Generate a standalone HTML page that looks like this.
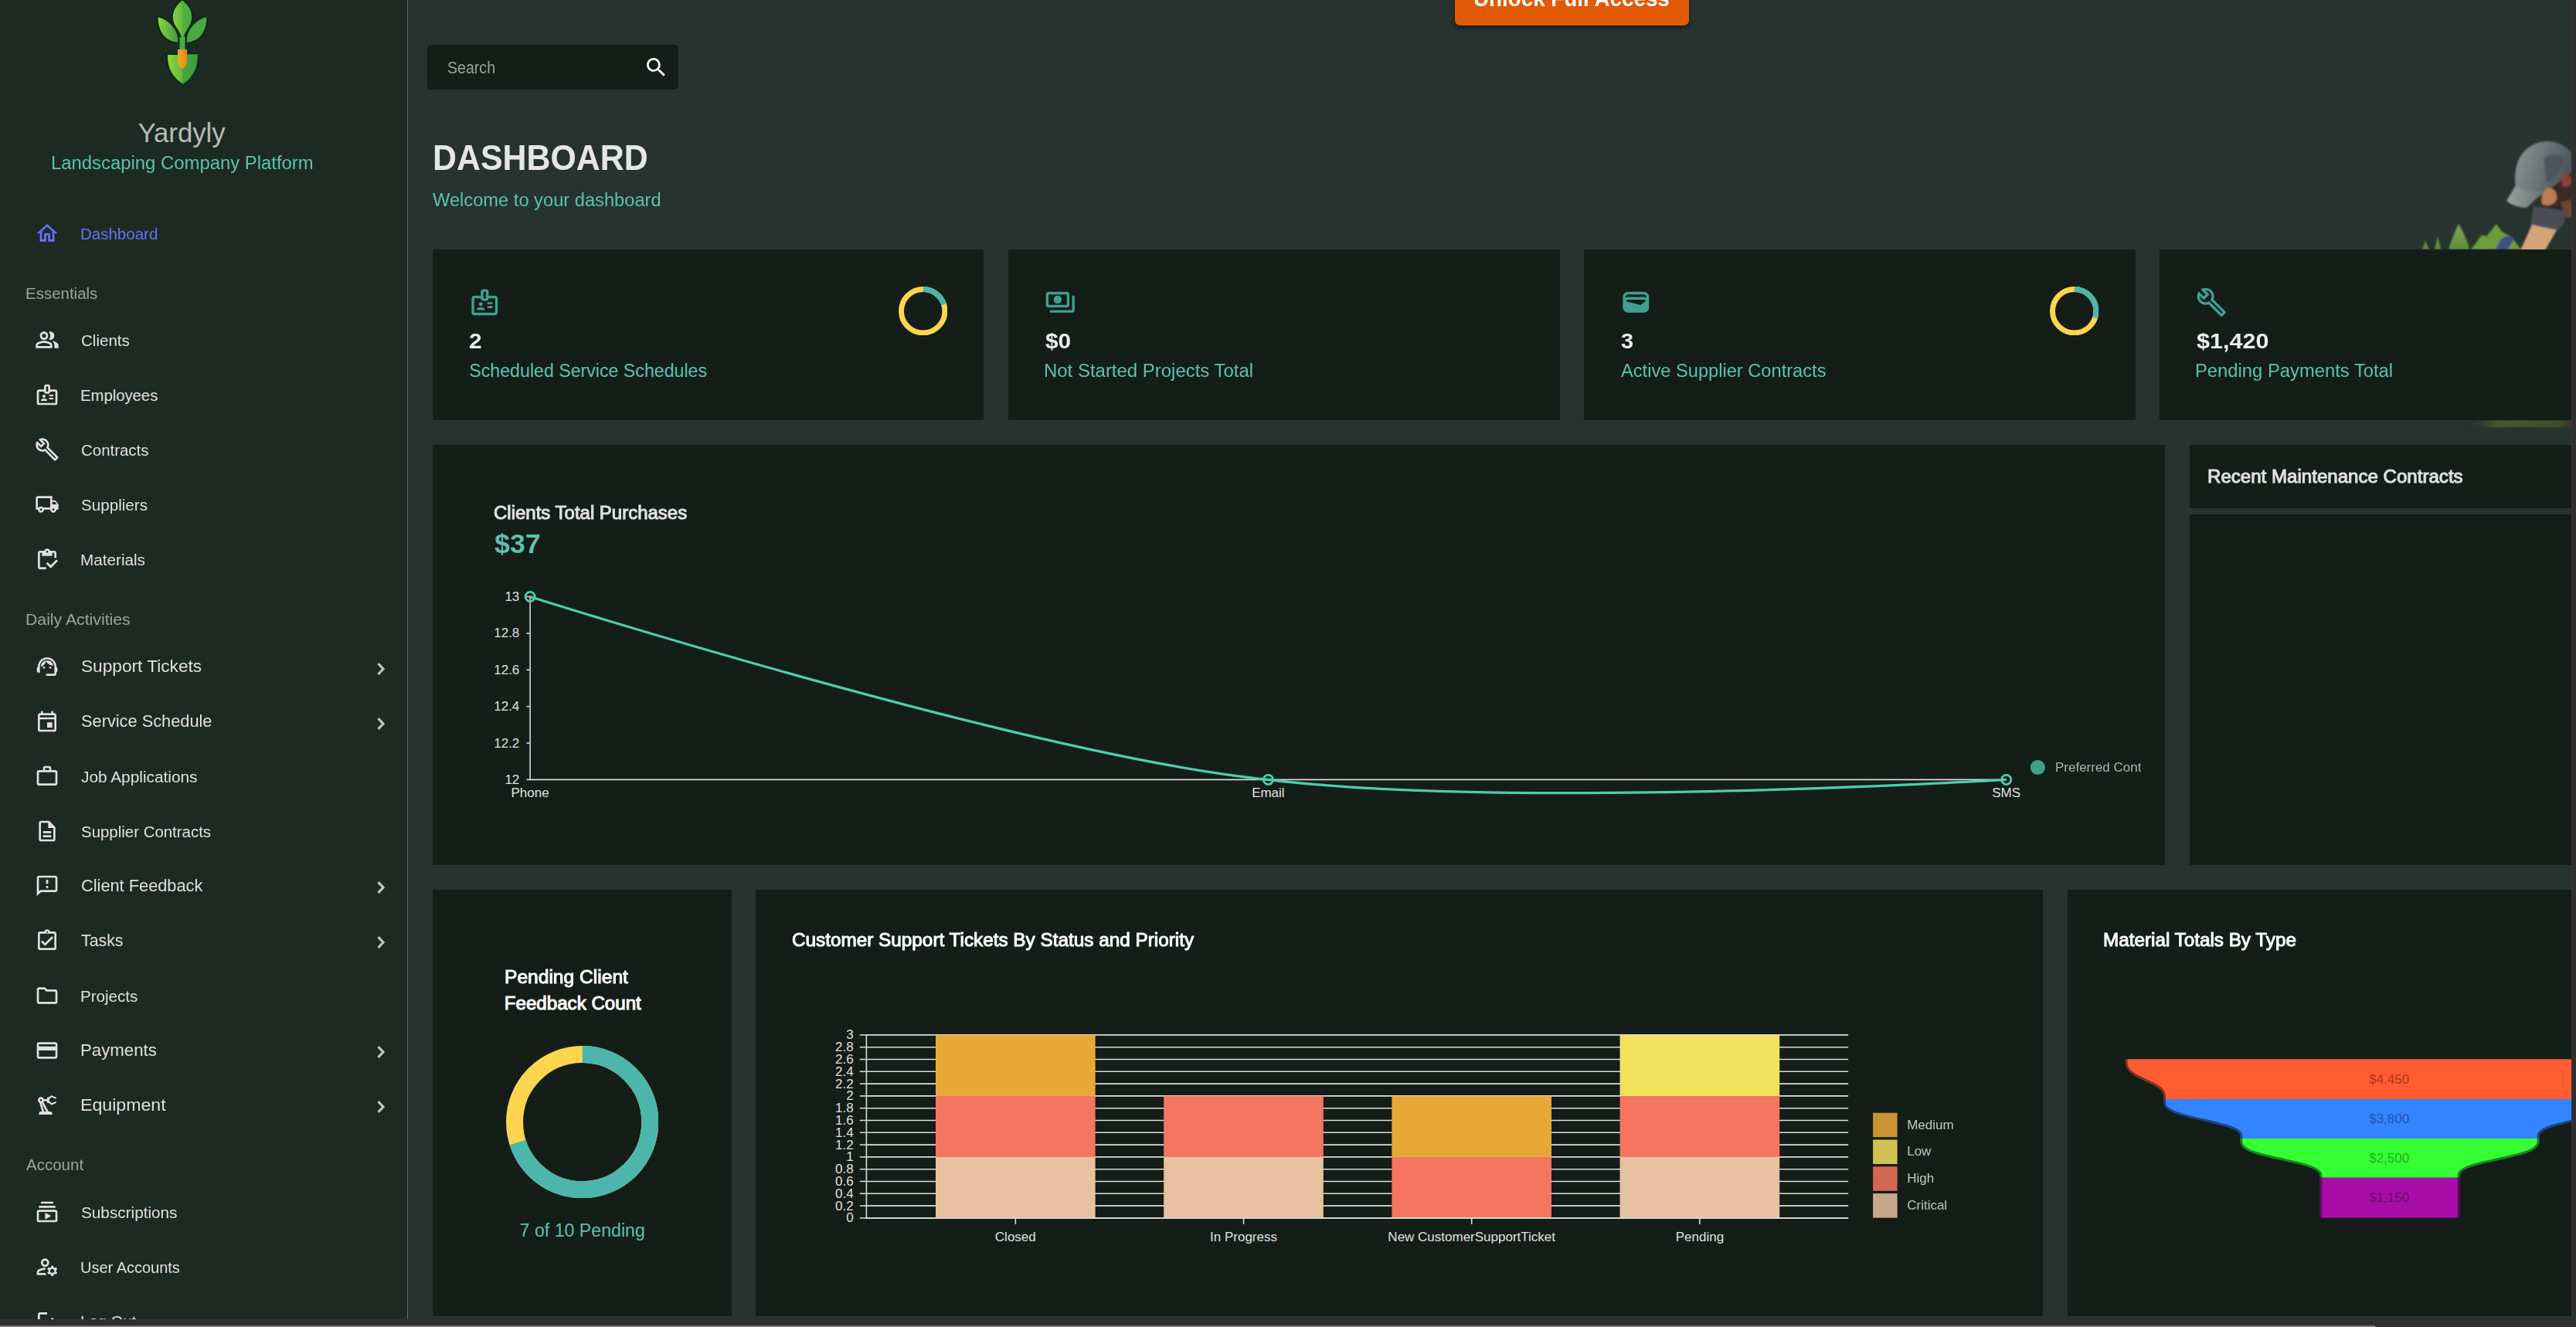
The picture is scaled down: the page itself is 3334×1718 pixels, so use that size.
<!DOCTYPE html><html lang="en"><head><meta charset="utf-8"><title>Yardyly - Dashboard</title><style>
*{box-sizing:border-box;margin:0;padding:0}
html,body{width:3334px;height:1718px;overflow:hidden;background:#26332f}
body{position:relative;font-family:"Liberation Sans",Arial,sans-serif}
.t{position:absolute;white-space:nowrap;transform-origin:0 0;display:block;text-decoration:none}
.ic{position:absolute;display:block}
.abs{position:absolute}
.card{position:absolute;background:#141d18}
aside{position:absolute;left:0;top:0;width:528px;height:1718px;background:#1d2a23;border-right:1px solid #5d6a63;overflow:hidden}
main{position:absolute;left:0;top:0;width:3328px;height:1708px;overflow:hidden}
nav,header{position:absolute;left:0;top:0}
svg text{font-family:"Liberation Sans",Arial,sans-serif}
.sbv{position:absolute;left:3328px;top:0;width:6px;height:1718px;background:#2f2f2f;border-left:1px solid #353535}
.sbh{position:absolute;left:0;top:1708px;width:3334px;height:10px;background:#2f2f2f}
.sbt{position:absolute;left:0;top:1716px;width:3074px;height:2px;background:#7a7a7a}
</style></head><body>
<main>
<button class="abs" style="left:1883.00px;top:-40.00px;width:303px;height:73px;background:#e05a07;border:none;border-radius:7px;box-shadow:0 3px 4px rgba(0,0,0,.45);font-family:inherit;text-align:left;overflow:visible">
<span class="t" style="left:24.33px;top:22.88px;font-size:29.91px;line-height:29.91px;color:#fff;font-weight:700;transform:scaleX(0.9292);">Unlock Full Access</span>
</button>
<div class="abs" style="left:553.00px;top:58.00px;width:325px;height:57.5px;background:#141d18;border-radius:5px">
<span class="t" style="left:25.71px;top:18.83px;font-size:21.23px;line-height:21.23px;color:#9aa39e;font-weight:400;transform:scaleX(0.9231);">Search</span>
<svg class="ic" style="left:279.90px;top:12.90px;width:32.60px;height:32.60px;" viewBox="0 0 24 24" fill="#ffffff"><path d="M15.500 14h-.79l-.28-.27C15.410 12.590 16 11.110 16 9.500 16 5.910 13.090 3 9.500 3S3 5.910 3 9.500 5.910 16 9.500 16c1.610 0 3.090-.59 4.230-1.570l.27.28v.79l5 4.990L20.490 19l-4.990-5zm-6 0C7.010 14 5 11.990 5 9.500S7.010 5 9.500 5 14 7.010 14 9.500 11.990 14 9.500 14z"/></svg>
</div>
<header>
<h1 class="t" style="left:560.13px;top:182.00px;font-size:45.84px;line-height:45.84px;color:#e6e6e6;font-weight:700;transform:scaleX(0.9355);">DASHBOARD</h1>
<h5 class="t" style="left:560.40px;top:247.60px;font-size:23.16px;line-height:23.16px;color:#5ac3ad;font-weight:400;transform:scaleX(1.0223);">Welcome to your dashboard</h5>
</header>
<svg class="abs" style="left:3100px;top:160px;width:228px;height:400px;overflow:hidden" viewBox="3100 160 228 400">
<defs><filter id="bl" x="-20%" y="-20%" width="140%" height="140%"><feGaussianBlur stdDeviation="1.1"/></filter>
<linearGradient id="cap" x1="0" y1="0" x2="1" y2="0.3"><stop offset="0" stop-color="#8a9896"/><stop offset=".45" stop-color="#6f7c7b"/><stop offset="1" stop-color="#4d535a"/></linearGradient>
<linearGradient id="brim" x1="0" y1="0" x2="1" y2="0"><stop offset="0" stop-color="#95a3a0"/><stop offset="1" stop-color="#66726f"/></linearGradient>
<linearGradient id="lf" x1="0" y1="0" x2="0" y2="1"><stop offset="0" stop-color="#7fa95a"/><stop offset="1" stop-color="#5d8c35"/></linearGradient>
<linearGradient id="gl" x1="0" y1="0" x2="1" y2="0"><stop offset="0" stop-color="#2a3630" stop-opacity="0"/><stop offset=".3" stop-color="#5b7a2a"/><stop offset=".85" stop-color="#4a6628"/><stop offset="1" stop-color="#5a2a2a"/></linearGradient></defs>
<g filter="url(#bl)">
<path d="M3256 243 C3252 214 3262 190 3288 184 C3306 180 3322 188 3330 200 L3330 232 C3318 244 3300 252 3290 254 Z" fill="url(#cap)"/>
<path d="M3292 205 C3300 198 3312 198 3318 206 C3316 220 3306 232 3296 236 Z" fill="#4a4f58" opacity=".75"/>
<path d="M3256 240 L3244 260 C3250 266 3262 269 3270 269 L3294 247 C3280 250 3266 247 3256 240Z" fill="url(#brim)"/>
<path d="M3290 252 C3300 246 3316 232 3330 222 L3330 282 C3318 284 3300 280 3286 270 C3284 262 3286 256 3290 252Z" fill="#3a2b28"/>
<path d="M3296 244 C3304 242 3310 248 3309 258 C3306 266 3296 268 3290 264 C3288 256 3291 248 3296 244Z" fill="#b97c52"/>
<path d="M3316 226 C3322 222 3328 226 3328 236 C3326 242 3320 244 3316 240Z" fill="#8a4038"/>
<path d="M3279 267 L3322 273 L3318 290 L3309 299 L3275 291Z" fill="#4b4e57"/>
<path d="M3314 262 L3330 258 L3330 280 L3322 282Z" fill="#6b4630"/>
<path d="M3277 291 L3309 298 L3294 324 L3262 324Z" fill="#d6a479"/>
<path d="M3182 290 C3188 300 3194 312 3196 323 L3169 323 C3172 312 3177 300 3182 290Z M3155 306 L3159 323 L3151 323Z M3139 312 L3144 323 L3135 323Z" fill="url(#lf)"/>
<path d="M3231 290 L3238 300 L3250 306 L3263 323 L3198 323 L3212 304 L3218 306Z" fill="#6c9c3a"/>
<path d="M3236 311 C3242 304 3250 304 3254 309 L3246 323 L3230 323Z" fill="#3f4f86"/>
</g>
<rect x="3190" y="544" width="140" height="9" fill="url(#gl)" opacity=".6" filter="url(#bl)"/>
</svg>
<section class="card" style="left:560.00px;top:323.00px;width:713px;height:221px;">
<svg class="ic" style="left:46.90px;top:47.70px;width:40.60px;height:40.60px;" viewBox="0 0 24 24" fill="#409f91"><path d="M14 12h4v1.5h-4zM14 15h4v1.5h-4z"/><path d="M20 7h-5V4c0-1.1-.9-2-2-2h-2c-1.1 0-2 .9-2 2v3H4c-1.1 0-2 .9-2 2v11c0 1.1.9 2 2 2h16c1.1 0 2-.9 2-2V9c0-1.1-.9-2-2-2zm-9-3h2v5h-2V4zm9 16H4V9h5c0 1.1.9 2 2 2h2c1.1 0 2-.9 2-2h5v11z"/><path d="M9 15c.83 0 1.5-.67 1.5-1.5S9.830 12 9 12s-1.500.67-1.500 1.500S8.170 15 9 15zM11.080 16.180C10.440 15.900 9.740 15.750 9 15.750s-1.440.15-2.080.43c-.56.24-.92.78-.92 1.390V18h6v-.43c0-.61-.36-1.150-.92-1.390z"/></svg>
<h4 class="t" style="left:47.36px;top:104.62px;font-size:27.50px;line-height:27.50px;color:#ededed;font-weight:700;transform:scaleX(1.0874);">2</h4>
<h5 class="t" style="left:47.35px;top:146.00px;font-size:23.16px;line-height:23.16px;color:#5ac3ad;font-weight:400;">Scheduled Service Schedules</h5>
<svg class="ic" style="left:602.70px;top:47.50px;width:63.40px;height:63.40px" viewBox="-31.7 -31.7 63.4 63.4"><circle r="28.20" fill="none" stroke="#ffd54f" stroke-width="7.00"/><circle r="28.20" fill="none" stroke="#4db6ac" stroke-width="7.00" stroke-dasharray="35.44 177.19" transform="rotate(-90)"/></svg>
</section>
<section class="card" style="left:1305.00px;top:323.00px;width:714px;height:221px;">
<svg class="ic" style="left:46.90px;top:47.70px;width:40.60px;height:40.60px;" viewBox="0 0 24 24" fill="#409f91"><path d="M19 14V6c0-1.100-.9-2-2-2H3c-1.100 0-2 .9-2 2v8c0 1.100.9 2 2 2h14c1.100 0 2-.9 2-2zm-2 0H3V6h14v8zm-7-7c-1.660 0-3 1.340-3 3s1.340 3 3 3 3-1.340 3-3-1.340-3-3-3zm13 0v11c0 1.100-.9 2-2 2H4v-2h17V7h2z"/></svg>
<h4 class="t" style="left:48.01px;top:104.62px;font-size:27.50px;line-height:27.50px;color:#ededed;font-weight:700;transform:scaleX(1.0858);">$0</h4>
<h5 class="t" style="left:46.43px;top:146.00px;font-size:23.16px;line-height:23.16px;color:#5ac3ad;font-weight:400;transform:scaleX(1.0344);">Not Started Projects Total</h5>
</section>
<section class="card" style="left:2050.00px;top:323.00px;width:714px;height:221px;">
<svg class="ic" style="left:46.90px;top:47.70px;width:40.60px;height:40.60px;" viewBox="0 0 24 24" fill="#409f91"><path d="M18 4H6C3.790 4 2 5.790 2 8v8c0 2.210 1.790 4 4 4h12c2.210 0 4-1.790 4-4V8c0-2.210-1.790-4-4-4zm-1.860 9.770c-.24.2-.57.28-.88.2L4.150 11.250C4.450 10.520 5.160 10 6 10h12c.67 0 1.260.34 1.630.84l-3.490 2.930zM6 6h12c1.100 0 2 .9 2 2v.55c-.59-.34-1.270-.55-2-.55H6c-.73 0-1.410.21-2 .55V8c0-1.100.9-2 2-2z"/></svg>
<h4 class="t" style="left:47.74px;top:104.62px;font-size:27.50px;line-height:27.50px;color:#ededed;font-weight:700;transform:scaleX(1.0532);">3</h4>
<h5 class="t" style="left:48.35px;top:146.00px;font-size:23.16px;line-height:23.16px;color:#5ac3ad;font-weight:400;transform:scaleX(1.0212);">Active Supplier Contracts</h5>
<svg class="ic" style="left:602.70px;top:47.50px;width:63.40px;height:63.40px" viewBox="-31.7 -31.7 63.4 63.4"><circle r="28.20" fill="none" stroke="#ffd54f" stroke-width="7.00"/><circle r="28.20" fill="none" stroke="#4db6ac" stroke-width="7.00" stroke-dasharray="53.16 177.19" transform="rotate(-90)"/></svg>
</section>
<section class="card" style="left:2795.00px;top:323.00px;width:714px;height:221px;">
<svg class="ic" style="left:46.90px;top:47.70px;width:40.60px;height:40.60px;" viewBox="0 0 24 24" fill="#409f91"><path d="M22.61 18.99l-9.080-9.080c.93-2.340.45-5.100-1.440-7C9.790.610 6.210.4 3.660 2.260L7.500 6.110 6.080 7.520 2.250 3.690C.39 6.230.6 9.820 2.900 12.110c1.860 1.860 4.570 2.350 6.890 1.480l9.110 9.110c.39.39 1.020.39 1.410 0l2.300-2.300c.4-.38.4-1.010 0-1.410zm-3 1.600l-9.460-9.460c-.61.45-1.290.72-2 .82-1.360.2-2.790-.21-3.830-1.250C3.370 9.760 2.930 8.500 3 7.260l3.090 3.090 4.240-4.240-3.090-3.090c1.240-.07 2.490.37 3.440 1.310 1.080 1.080 1.490 2.570 1.240 3.960-.12.71-.42 1.370-.88 1.960l9.450 9.450-.88.89z"/></svg>
<h4 class="t" style="left:48.00px;top:104.62px;font-size:27.50px;line-height:27.50px;color:#ededed;font-weight:700;transform:scaleX(1.1109);">$1,420</h4>
<h5 class="t" style="left:46.45px;top:146.00px;font-size:23.16px;line-height:23.16px;color:#5ac3ad;font-weight:400;transform:scaleX(1.0274);">Pending Payments Total</h5>
</section>
<section class="card" style="left:560.00px;top:576.00px;width:2242px;height:544px;">
<h3 class="t" style="left:78.78px;top:77.00px;font-size:23.16px;line-height:23.16px;color:#e0e0e0;font-weight:400;transform:scaleX(1.0358);-webkit-text-stroke:1px currentColor;">Clients Total Purchases</h3>
<h2 class="t" style="left:79.53px;top:111.29px;font-size:34.74px;line-height:34.74px;color:#5ac3ad;font-weight:700;transform:scaleX(1.0292);">$37</h2>
<svg class="abs" style="left:0.00px;top:0.00px;width:2211.3px;height:544px;overflow:hidden" viewBox="560 576 2211.3 544"><g stroke="#d9d9d9" stroke-width="1.6" fill="none"><path d="M686.1,771.7V1009.4"/><path d="M685.3000000000001,1009.4H2596.7"/><path d="M681.3,772.50H686.1"/><path d="M681.3,819.88H686.1"/><path d="M681.3,867.26H686.1"/><path d="M681.3,914.64H686.1"/><path d="M681.3,962.02H686.1"/><path d="M681.3,1009.40H686.1"/></g><g fill="#e0e0e0" font-size="17" text-anchor="end"><text x="672.3" y="778.00">13</text><text x="672.3" y="825.38">12.8</text><text x="672.3" y="872.76">12.6</text><text x="672.3" y="920.14">12.4</text><text x="672.3" y="967.52">12.2</text><text x="672.3" y="1014.90">12</text></g><g fill="#e0e0e0" font-size="17" text-anchor="middle"><text x="686.1" y="1031.6">Phone</text><text x="1641.4" y="1031.6">Email</text><text x="2596.7" y="1031.6">SMS</text></g><path d="M686.10,772.50C686.10,772.50,1337.00,979.14,1641.40,1009.40C1957.49,1048.01,2596.70,1009.40,2596.70,1009.40" fill="none" stroke="#4cceac" stroke-width="3.2"/><circle cx="686.1" cy="772.5" r="6.1" fill="none" stroke="#4cceac" stroke-width="2.8"/><circle cx="1641.4" cy="1009.4" r="6.1" fill="none" stroke="#4cceac" stroke-width="2.8"/><circle cx="2596.7" cy="1009.4" r="6.1" fill="none" stroke="#4cceac" stroke-width="2.8"/><g opacity=".75"><circle cx="2637.3" cy="993.5" r="9.6" fill="#4cceac"/><text x="2660" y="999.2" font-size="17" fill="#e0e0e0">Preferred Contact Method</text></g></svg>
</section>
<section class="card" style="left:2834.00px;top:576.00px;width:700px;height:82px;">
<h3 class="t" style="left:22.82px;top:30.40px;font-size:23.16px;line-height:23.16px;color:#e0e0e0;font-weight:400;transform:scaleX(1.0400);-webkit-text-stroke:1px currentColor;">Recent Maintenance Contracts</h3>
</section>
<section class="card" style="left:2834.00px;top:666.00px;width:700px;height:454px;">
</section>
<section class="card" style="left:560.00px;top:1152.00px;width:387px;height:552px;">
<h3 class="t" style="left:92.78px;top:100.78px;font-size:24.12px;line-height:24.12px;color:#ffffff;font-weight:400;transform:scaleX(1.0196);-webkit-text-stroke:1px currentColor;">Pending Client</h3>
<h3 class="t" style="left:92.83px;top:134.58px;font-size:24.12px;line-height:24.12px;color:#ffffff;font-weight:400;-webkit-text-stroke:1px currentColor;">Feedback Count</h3>
<svg class="ic" style="left:94.85px;top:201.75px;width:197.30px;height:197.30px" viewBox="-98.65 -98.65 197.3 197.3"><circle r="87.62" fill="none" stroke="#ffd54f" stroke-width="22.05"/><circle r="87.62" fill="none" stroke="#4db6ac" stroke-width="22.05" stroke-dasharray="385.39 550.56" transform="rotate(-90)"/></svg>
<h5 class="t" style="left:112.61px;top:430.00px;font-size:23.16px;line-height:23.16px;color:#5ac3ad;font-weight:400;">7 of 10 Pending</h5>
</section>
<section class="card" style="left:978.00px;top:1152.00px;width:1666px;height:552px;">
<h3 class="t" style="left:47.06px;top:53.48px;font-size:24.12px;line-height:24.12px;color:#ffffff;font-weight:400;transform:scaleX(1.0081);-webkit-text-stroke:1px currentColor;">Customer Support Tickets By Status and Priority</h3>
<svg class="abs" style="left:0.00px;top:0.00px;width:1666px;height:552px" viewBox="978 1152 1666 552"><g stroke="#dddddd" stroke-width="1.6"><path d="M1121.4,1576.90H2392.1"/><path d="M1121.4,1561.10H2392.1"/><path d="M1121.4,1545.30H2392.1"/><path d="M1121.4,1529.50H2392.1"/><path d="M1121.4,1513.70H2392.1"/><path d="M1121.4,1497.90H2392.1"/><path d="M1121.4,1482.10H2392.1"/><path d="M1121.4,1466.30H2392.1"/><path d="M1121.4,1450.50H2392.1"/><path d="M1121.4,1434.70H2392.1"/><path d="M1121.4,1418.90H2392.1"/><path d="M1121.4,1403.10H2392.1"/><path d="M1121.4,1387.30H2392.1"/><path d="M1121.4,1371.50H2392.1"/><path d="M1121.4,1355.70H2392.1"/><path d="M1121.4,1339.90H2392.1"/></g><rect x="1211.0" y="1497.90" width="206.6" height="79.0" fill="#e8c1a0"/><rect x="1211.0" y="1418.90" width="206.6" height="79.0" fill="#f47560"/><rect x="1211.0" y="1339.90" width="206.6" height="79.0" fill="#e8a838"/><rect x="1506.2" y="1497.90" width="206.6" height="79.0" fill="#e8c1a0"/><rect x="1506.2" y="1418.90" width="206.6" height="79.0" fill="#f47560"/><rect x="1801.4" y="1497.90" width="206.6" height="79.0" fill="#f47560"/><rect x="1801.4" y="1418.90" width="206.6" height="79.0" fill="#e8a838"/><rect x="2096.6" y="1497.90" width="206.6" height="79.0" fill="#e8c1a0"/><rect x="2096.6" y="1418.90" width="206.6" height="79.0" fill="#f47560"/><rect x="2096.6" y="1339.90" width="206.6" height="79.0" fill="#f1e15b"/><g stroke="#d9d9d9" stroke-width="1.6" fill="none"><path d="M1121.4,1339.10V1577.7"/><path d="M1120.6000000000001,1576.9H2392.1"/><path d="M1112.8,1576.90H1121.4"/><path d="M1112.8,1561.10H1121.4"/><path d="M1112.8,1545.30H1121.4"/><path d="M1112.8,1529.50H1121.4"/><path d="M1112.8,1513.70H1121.4"/><path d="M1112.8,1497.90H1121.4"/><path d="M1112.8,1482.10H1121.4"/><path d="M1112.8,1466.30H1121.4"/><path d="M1112.8,1450.50H1121.4"/><path d="M1112.8,1434.70H1121.4"/><path d="M1112.8,1418.90H1121.4"/><path d="M1112.8,1403.10H1121.4"/><path d="M1112.8,1387.30H1121.4"/><path d="M1112.8,1371.50H1121.4"/><path d="M1112.8,1355.70H1121.4"/><path d="M1112.8,1339.90H1121.4"/><path d="M1314.3,1576.9V1584.9"/><path d="M1609.5,1576.9V1584.9"/><path d="M1904.7,1576.9V1584.9"/><path d="M2199.9,1576.9V1584.9"/></g><g fill="#e0e0e0" font-size="17" text-anchor="end"><text x="1104.6" y="1582.40">0</text><text x="1104.6" y="1566.60">0.2</text><text x="1104.6" y="1550.80">0.4</text><text x="1104.6" y="1535.00">0.6</text><text x="1104.6" y="1519.20">0.8</text><text x="1104.6" y="1503.40">1</text><text x="1104.6" y="1487.60">1.2</text><text x="1104.6" y="1471.80">1.4</text><text x="1104.6" y="1456.00">1.6</text><text x="1104.6" y="1440.20">1.8</text><text x="1104.6" y="1424.40">2</text><text x="1104.6" y="1408.60">2.2</text><text x="1104.6" y="1392.80">2.4</text><text x="1104.6" y="1377.00">2.6</text><text x="1104.6" y="1361.20">2.8</text><text x="1104.6" y="1345.40">3</text></g><g fill="#e0e0e0" font-size="17" text-anchor="middle"><text x="1314.3" y="1607.3">Closed</text><text x="1609.5" y="1607.3">In Progress</text><text x="1904.7" y="1607.3">New CustomerSupportTicket</text><text x="2199.9" y="1607.3">Pending</text></g><g opacity=".85"><rect x="2424.1" y="1440.7" width="31.5" height="31.5" fill="#e8a838"/><text x="2468.2" y="1461.5" font-size="17" fill="#e0e0e0">Medium</text><rect x="2424.1" y="1475.5" width="31.5" height="31.5" fill="#f1e15b"/><text x="2468.2" y="1496.3" font-size="17" fill="#e0e0e0">Low</text><rect x="2424.1" y="1510.3" width="31.5" height="31.5" fill="#f47560"/><text x="2468.2" y="1531.1" font-size="17" fill="#e0e0e0">High</text><rect x="2424.1" y="1545.1" width="31.5" height="31.5" fill="#e8c1a0"/><text x="2468.2" y="1565.9" font-size="17" fill="#e0e0e0">Critical</text></g></svg>
</section>
<section class="card" style="left:2676.00px;top:1152.00px;width:800px;height:552px;">
<h3 class="t" style="left:46.21px;top:52.88px;font-size:24.12px;line-height:24.12px;color:#ffffff;font-weight:400;transform:scaleX(1.0061);-webkit-text-stroke:1px currentColor;">Material Totals By Type</h3>
<svg class="abs" style="left:0.00px;top:0.00px;width:652px;height:552px;overflow:hidden" viewBox="2676 1152 652 552"><path d="M2753.50,1371.30L2753.50,1374.15C2753.50,1377.00,2753.50,1382.70,2761.76,1388.48C2770.03,1394.26,2786.56,1400.14,2794.82,1405.92C2803.09,1411.70,2803.09,1417.40,2803.09,1420.25L2803.09,1423.10M3432.50,1371.30L3432.50,1374.15C3432.50,1377.00,3432.50,1382.70,3424.24,1388.48C3415.97,1394.26,3399.44,1400.14,3391.18,1405.92C3382.91,1411.70,3382.91,1417.40,3382.91,1420.25L3382.91,1423.10" fill="none" stroke="#8f3420" stroke-opacity=".9" stroke-width="6"/><path d="M2753.50,1371.30L2753.50,1374.15C2753.50,1377.00,2753.50,1382.70,2761.76,1388.48C2770.03,1394.26,2786.56,1400.14,2794.82,1405.92C2803.09,1411.70,2803.09,1417.40,2803.09,1420.25L2803.09,1423.10L3382.91,1423.10L3382.91,1420.25C3382.91,1417.40,3382.91,1411.70,3391.18,1405.92C3399.44,1400.14,3415.97,1394.26,3424.24,1388.48C3432.50,1382.70,3432.50,1377.00,3432.50,1374.15L3432.50,1371.30Z" fill="#ff5c33"/><path d="M2803.09,1423.10L2803.09,1425.89C2803.09,1428.69,2803.09,1434.28,2819.62,1439.95C2836.15,1445.62,2869.21,1451.38,2885.74,1457.05C2902.27,1462.72,2902.27,1468.31,2902.27,1471.11L2902.27,1473.90M3382.91,1423.10L3382.91,1425.89C3382.91,1428.69,3382.91,1434.28,3366.38,1439.95C3349.85,1445.62,3316.79,1451.38,3300.26,1457.05C3283.73,1462.72,3283.73,1468.31,3283.73,1471.11L3283.73,1473.90" fill="none" stroke="#1d4d92" stroke-opacity=".9" stroke-width="6"/><path d="M2803.09,1423.10L2803.09,1425.89C2803.09,1428.69,2803.09,1434.28,2819.62,1439.95C2836.15,1445.62,2869.21,1451.38,2885.74,1457.05C2902.27,1462.72,2902.27,1468.31,2902.27,1471.11L2902.27,1473.90L3283.73,1473.90L3283.73,1471.11C3283.73,1468.31,3283.73,1462.72,3300.26,1457.05C3316.79,1451.38,3349.85,1445.62,3366.38,1439.95C3382.91,1434.28,3382.91,1428.69,3382.91,1425.89L3382.91,1423.10Z" fill="#3385ff"/><path d="M2902.27,1473.90L2902.27,1476.70C2902.27,1479.50,2902.27,1485.10,2919.44,1490.78C2936.60,1496.47,2970.93,1502.23,2988.10,1507.92C3005.26,1513.60,3005.26,1519.20,3005.26,1522.00L3005.26,1524.80M3283.73,1473.90L3283.73,1476.70C3283.73,1479.50,3283.73,1485.10,3266.56,1490.78C3249.40,1496.47,3215.07,1502.23,3197.90,1507.92C3180.74,1513.60,3180.74,1519.20,3180.74,1522.00L3180.74,1524.80" fill="none" stroke="#1e8f22" stroke-opacity=".9" stroke-width="6"/><path d="M2902.27,1473.90L2902.27,1476.70C2902.27,1479.50,2902.27,1485.10,2919.44,1490.78C2936.60,1496.47,2970.93,1502.23,2988.10,1507.92C3005.26,1513.60,3005.26,1519.20,3005.26,1522.00L3005.26,1524.80L3180.74,1524.80L3180.74,1522.00C3180.74,1519.20,3180.74,1513.60,3197.90,1507.92C3215.07,1502.23,3249.40,1496.47,3266.56,1490.78C3283.73,1485.10,3283.73,1479.50,3283.73,1476.70L3283.73,1473.90Z" fill="#33ff33"/><path d="M3005.26,1524.80V1576.60M3180.74,1524.80V1576.60" fill="none" stroke="#600c60" stroke-opacity=".9" stroke-width="6"/><path d="M3005.26,1524.80H3180.74V1576.60H3005.26Z" fill="#a80da8"/><text x="3092.2" y="1402.7" font-size="17" text-anchor="middle" fill="#b5371a">$4,450</text><text x="3092.2" y="1454.0" font-size="17" text-anchor="middle" fill="#1f55b5">$3,800</text><text x="3092.2" y="1504.8" font-size="17" text-anchor="middle" fill="#1fb01f">$2,500</text><text x="3092.2" y="1556.2" font-size="17" text-anchor="middle" fill="#6e0a6e">$1,150</text></svg>
</section>
</main>
<aside>
<svg class="abs" style="left:150px;top:0;width:180px;height:130px" viewBox="150 0 180 130">
<defs><linearGradient id="lg1" x1="0" y1="0" x2="1" y2="0"><stop offset="0" stop-color="#8ed63e"/><stop offset="1" stop-color="#3c9a3c"/></linearGradient>
<linearGradient id="lg2" x1="0" y1="0" x2="1" y2="0"><stop offset="0" stop-color="#f6a623"/><stop offset="1" stop-color="#e58a1c"/></linearGradient></defs>
<g stroke="#0d2a12" stroke-width="2.2" stroke-linejoin="round">
<path d="M236 -1 C224 8 219.5 20 225 32 C228 38 233 42 234 50 L234 62 L238 62 L238 50 C239 42 244 38 247 32 C252.5 20 248 8 236 -1Z" fill="url(#lg1)"/>
<path d="M203.5 21 C203 36 209 48 219 53 C224 55.5 229 56 231.5 56 C232 47 229 38 222 31 C216.5 25.5 210 22 203.5 21Z" fill="url(#lg1)"/>
<path d="M268.5 21 C269 36 263 48 253 53 C248 55.5 243 56 240.5 56 C240 47 243 38 250 31 C255.5 25.5 262 22 268.5 21Z" fill="#4aa844"/>
<path d="M216 70 L256 70 C257 86 251 100 236 109.5 C221 100 215 86 216 70Z" fill="url(#lg1)"/>
</g>
<path d="M236 70 L256 70 C257 86 251 100 236 109.5Z" fill="#3f9f3f" opacity=".75"/>
<path d="M236 1 C247 9 250.5 20 246 31 C243 38 239 42 238 50 L238 62 L236 62Z" fill="#4fae45" opacity=".7"/>
<rect x="232.5" y="48" width="7" height="17" fill="#49ab47"/>
<path d="M230 64 L242 64 L242 80 C241 85 238.5 88 236 89.5 C233.5 88 231 85 230 80Z" fill="url(#lg2)"/>
</svg>
<h2 class="t" style="left:178.44px;top:155.19px;font-size:34.74px;line-height:34.74px;color:#b9bbb5;font-weight:400;">Yardyly</h2>
<h5 class="t" style="left:65.54px;top:199.60px;font-size:23.16px;line-height:23.16px;color:#5ac3ad;font-weight:400;transform:scaleX(1.0307);">Landscaping Company Platform</h5>
<nav><ul style="list-style:none">
<li>
<svg class="ic" style="left:45.30px;top:286.40px;width:32.00px;height:32.00px;" viewBox="0 0 24 24" fill="#6870fa"><path d="M12 5.69l5 4.5V18h-2v-6H9v6H7v-7.81l5-4.5M12 3L2 12h3v8h6v-6h2v6h6v-8h3L12 3z"/></svg>
<a class="t" style="left:104.02px;top:293.25px;font-size:20.27px;line-height:20.27px;color:#6870fa;font-weight:400;transform:scaleX(1.0116);">Dashboard</a>
</li>
<li>
<h6 class="t" style="left:32.82px;top:370.15px;font-size:20.27px;line-height:20.27px;color:#9ca49f;font-weight:400;transform:scaleX(1.0102);">Essentials</h6>
</li>
<li>
<svg class="ic" style="left:45.30px;top:424.20px;width:32.00px;height:32.00px;" viewBox="0 0 24 24" fill="#e0e0e0"><path d="M16.67 13.13C18.04 14.06 19 15.32 19 17v3h4v-3c0-2.18-3.57-3.47-6.33-3.87zM15 12c2.21 0 4-1.79 4-4s-1.79-4-4-4c-.47 0-.91.1-1.33.24C14.5 5.27 15 6.58 15 8s-.5 2.73-1.33 3.76c.42.14.86.24 1.33.24zM9 12c2.21 0 4-1.79 4-4s-1.79-4-4-4-4 1.79-4 4 1.79 4 4 4zm0-6c1.1 0 2 .9 2 2s-.9 2-2 2-2-.9-2-2 .9-2 2-2zM9 13c-2.67 0-8 1.34-8 4v3h16v-3c0-2.66-5.33-4-8-4zm6 5H3v-.99C3.2 16.29 6.3 15 9 15s5.8 1.29 6 2v1z"/></svg>
<a class="t" style="left:104.66px;top:431.05px;font-size:20.27px;line-height:20.27px;color:#e0e0e0;font-weight:400;transform:scaleX(1.0134);">Clients</a>
</li>
<li>
<svg class="ic" style="left:45.30px;top:495.30px;width:32.00px;height:32.00px;" viewBox="0 0 24 24" fill="#e0e0e0"><path d="M14 12h4v1.5h-4zM14 15h4v1.5h-4z"/><path d="M20 7h-5V4c0-1.1-.9-2-2-2h-2c-1.1 0-2 .9-2 2v3H4c-1.1 0-2 .9-2 2v11c0 1.1.9 2 2 2h16c1.1 0 2-.9 2-2V9c0-1.1-.9-2-2-2zm-9-3h2v5h-2V4zm9 16H4V9h5c0 1.1.9 2 2 2h2c1.1 0 2-.9 2-2h5v11z"/><path d="M9 15c.83 0 1.5-.67 1.5-1.5S9.830 12 9 12s-1.500.67-1.500 1.500S8.170 15 9 15zM11.080 16.180C10.440 15.900 9.740 15.750 9 15.750s-1.440.15-2.080.43c-.56.24-.92.78-.92 1.390V18h6v-.43c0-.61-.36-1.150-.92-1.390z"/></svg>
<a class="t" style="left:104.03px;top:502.15px;font-size:20.27px;line-height:20.27px;color:#e0e0e0;font-weight:400;">Employees</a>
</li>
<li>
<svg class="ic" style="left:45.30px;top:566.30px;width:32.00px;height:32.00px;" viewBox="0 0 24 24" fill="#e0e0e0"><path d="M22.61 18.99l-9.080-9.080c.93-2.340.45-5.100-1.440-7C9.790.610 6.210.4 3.660 2.260L7.500 6.110 6.080 7.520 2.250 3.690C.39 6.230.6 9.820 2.900 12.110c1.860 1.860 4.570 2.350 6.890 1.480l9.110 9.110c.39.39 1.020.39 1.410 0l2.300-2.300c.4-.38.4-1.010 0-1.410zm-3 1.600l-9.460-9.460c-.61.45-1.290.72-2 .82-1.360.2-2.790-.21-3.830-1.250C3.370 9.760 2.930 8.500 3 7.260l3.090 3.090 4.240-4.240-3.090-3.090c1.240-.07 2.490.37 3.440 1.310 1.080 1.080 1.490 2.570 1.240 3.960-.12.71-.42 1.370-.88 1.960l9.450 9.450-.88.89z"/></svg>
<a class="t" style="left:104.66px;top:573.15px;font-size:20.27px;line-height:20.27px;color:#e0e0e0;font-weight:400;transform:scaleX(1.0086);">Contracts</a>
</li>
<li>
<svg class="ic" style="left:45.30px;top:637.30px;width:32.00px;height:32.00px;" viewBox="0 0 24 24" fill="#e0e0e0"><path d="M20 8h-3V4H3c-1.100 0-2 .9-2 2v11h2c0 1.660 1.340 3 3 3s3-1.340 3-3h6c0 1.660 1.340 3 3 3s3-1.340 3-3h2v-5l-3-4zm-.5 1.500l1.960 2.500H17V9.500h2.500zM6 18c-.55 0-1-.45-1-1s.45-1 1-1 1 .45 1 1-.45 1-1 1zm2.220-3c-.55-.61-1.330-1-2.220-1s-1.670.39-2.220 1H3V6h12v9H8.220zM18 18c-.55 0-1-.45-1-1s.45-1 1-1 1 .45 1 1-.45 1-1 1z"/></svg>
<a class="t" style="left:104.76px;top:644.15px;font-size:20.27px;line-height:20.27px;color:#e0e0e0;font-weight:400;transform:scaleX(1.0175);">Suppliers</a>
</li>
<li>
<svg class="ic" style="left:45.30px;top:708.60px;width:32.00px;height:32.00px;" viewBox="0 0 24 24" fill="#e0e0e0"><path d="M5 5h2v3h10V5h2v5h2V5c0-1.100-.9-2-2-2h-4.180C14.400 1.840 13.300 1 12 1s-2.400.84-2.820 2H5c-1.100 0-2 .9-2 2v14c0 1.100.9 2 2 2h6v-2H5V5zm7-2c.55 0 1 .45 1 1s-.45 1-1 1-1-.45-1-1 .45-1 1-1z"/><path d="M21 11.500L15.510 17l-3.010-3-1.500 1.500 4.510 4.500 6.990-7z"/></svg>
<a class="t" style="left:104.00px;top:715.45px;font-size:20.27px;line-height:20.27px;color:#e0e0e0;font-weight:400;transform:scaleX(1.0210);">Materials</a>
</li>
<li>
<h6 class="t" style="left:32.76px;top:791.75px;font-size:20.27px;line-height:20.27px;color:#9ca49f;font-weight:400;transform:scaleX(1.0478);">Daily Activities</h6>
</li>
<li>
<svg class="ic" style="left:45.30px;top:847.20px;width:32.00px;height:32.00px;" viewBox="0 0 24 24" fill="#e0e0e0"><path d="M21 12.220C21 6.730 16.740 3 12 3c-4.690 0-9 3.650-9 9.280-.6.34-1 .98-1 1.720v2c0 1.100.9 2 2 2h1v-6.100c0-3.870 3.130-7 7-7s7 3.130 7 7V19h-8v2h8c1.100 0 2-.9 2-2v-1.220c.59-.31 1-.92 1-1.640v-2.300c0-.7-.41-1.310-1-1.620z"/><circle cx="9" cy="13" r="1"/><circle cx="15" cy="13" r="1"/><path d="M18 11.030C17.520 8.180 15.040 6 12.050 6c-3.030 0-6.290 2.510-6.030 6.450 2.470-1.010 4.330-3.210 4.860-5.890 1.310 2.630 4 4.440 7.120 4.470z"/></svg>
<a class="t" style="left:104.67px;top:852.17px;font-size:22.48px;line-height:22.48px;color:#e0e0e0;font-weight:400;transform:scaleX(1.0083);">Support Tickets</a>
<svg class="ic" style="left:485.00px;top:853.70px;width:16px;height:24px" viewBox="0 0 16 24"><path d="M4.5 5.2 L11 12 L4.5 18.8" fill="none" stroke="#b9c8be" stroke-width="3.2"/></svg>
</li>
<li>
<svg class="ic" style="left:45.30px;top:918.13px;width:32.00px;height:32.00px;" viewBox="0 0 24 24" fill="#e0e0e0"><path d="M19 4h-1V2h-2v2H8V2H6v2H5c-1.110 0-1.990.9-1.990 2L3 20c0 1.100.89 2 2 2h14c1.100 0 2-.9 2-2V6c0-1.100-.9-2-2-2zm0 16H5V10h14v10zm0-12H5V6h14v2zm-7 5h5v5h-5z"/></svg>
<a class="t" style="left:104.71px;top:923.10px;font-size:22.48px;line-height:22.48px;color:#e0e0e0;font-weight:400;transform:scaleX(0.9691);">Service Schedule</a>
<svg class="ic" style="left:485.00px;top:924.63px;width:16px;height:24px" viewBox="0 0 16 24"><path d="M4.5 5.2 L11 12 L4.5 18.8" fill="none" stroke="#b9c8be" stroke-width="3.2"/></svg>
</li>
<li>
<svg class="ic" style="left:45.30px;top:989.06px;width:32.00px;height:32.00px;" viewBox="0 0 24 24" fill="#e0e0e0"><path d="M14 6V4h-4v2h4zM4 8v11h16V8H4zm16-2c1.110 0 2 .89 2 2v11c0 1.110-.89 2-2 2H4c-1.110 0-2-.89-2-2l.01-11c0-1.110.88-2 1.990-2h4V4c0-1.110.89-2 2-2h4c1.110 0 2 .89 2 2v2h4z"/></svg>
<a class="t" style="left:105.37px;top:995.91px;font-size:20.27px;line-height:20.27px;color:#e0e0e0;font-weight:400;transform:scaleX(1.0274);">Job Applications</a>
</li>
<li>
<svg class="ic" style="left:45.30px;top:1059.99px;width:32.00px;height:32.00px;" viewBox="0 0 24 24" fill="#e0e0e0"><path d="M8 16h8v2H8zm0-4h8v2H8zm6-10H6c-1.100 0-2 .9-2 2v16c0 1.100.89 2 1.990 2H18c1.100 0 2-.9 2-2V8l-6-6zm4 18H6V4h7v5h5v11z"/></svg>
<a class="t" style="left:104.77px;top:1066.84px;font-size:20.27px;line-height:20.27px;color:#e0e0e0;font-weight:400;transform:scaleX(1.0081);">Supplier Contracts</a>
</li>
<li>
<svg class="ic" style="left:45.30px;top:1130.92px;width:32.00px;height:32.00px;" viewBox="0 0 24 24" fill="#e0e0e0"><path d="M20 2H4c-1.100 0-1.990.9-1.990 2L2 22l4-4h14c1.100 0 2-.9 2-2V4c0-1.100-.9-2-2-2zm0 14H5.170l-.59.59-.58.58V4h16v12zm-9-4h2v2h-2zm0-6h2v4h-2z"/></svg>
<a class="t" style="left:104.59px;top:1135.89px;font-size:22.48px;line-height:22.48px;color:#e0e0e0;font-weight:400;transform:scaleX(0.9692);">Client Feedback</a>
<svg class="ic" style="left:485.00px;top:1137.42px;width:16px;height:24px" viewBox="0 0 16 24"><path d="M4.5 5.2 L11 12 L4.5 18.8" fill="none" stroke="#b9c8be" stroke-width="3.2"/></svg>
</li>
<li>
<svg class="ic" style="left:45.30px;top:1201.85px;width:32.00px;height:32.00px;" viewBox="0 0 24 24" fill="#e0e0e0"><path d="M18 9l-1.410-1.420L10 14.170l-2.590-2.580L6 13l4 4zm1-6h-4.180C14.400 1.840 13.300 1 12 1c-1.300 0-2.400.84-2.820 2H5c-.14 0-.27.01-.4.04-.39.08-.74.28-1.010.55-.18.18-.33.4-.43.64-.1.23-.16.49-.16.77v14c0 .27.06.54.16.78s.25.45.43.64c.27.27.62.47 1.010.55.13.02.26.03.4.03h14c1.100 0 2-.9 2-2V5c0-1.100-.9-2-2-2zm-7-.25c.41 0 .75.34.75.75s-.34.75-.75.75-.75-.34-.75-.75.34-.75.75-.75zM19 19H5V5h14v14z"/></svg>
<a class="t" style="left:105.22px;top:1206.82px;font-size:22.48px;line-height:22.48px;color:#e0e0e0;font-weight:400;transform:scaleX(0.9480);">Tasks</a>
<svg class="ic" style="left:485.00px;top:1208.35px;width:16px;height:24px" viewBox="0 0 16 24"><path d="M4.5 5.2 L11 12 L4.5 18.8" fill="none" stroke="#b9c8be" stroke-width="3.2"/></svg>
</li>
<li>
<svg class="ic" style="left:45.30px;top:1272.78px;width:32.00px;height:32.00px;" viewBox="0 0 24 24" fill="#e0e0e0"><path d="M9.170 6l2 2H20v10H4V6h5.170M10 4H4c-1.100 0-1.990.9-1.990 2L2 18c0 1.100.9 2 2 2h16c1.100 0 2-.9 2-2V8c0-1.100-.9-2-2-2h-8l-2-2z"/></svg>
<a class="t" style="left:104.01px;top:1279.63px;font-size:20.27px;line-height:20.27px;color:#e0e0e0;font-weight:400;transform:scaleX(1.0152);">Projects</a>
</li>
<li>
<svg class="ic" style="left:45.30px;top:1343.71px;width:32.00px;height:32.00px;" viewBox="0 0 24 24" fill="#e0e0e0"><path d="M20 4H4c-1.110 0-1.990.89-1.990 2L2 18c0 1.110.89 2 2 2h16c1.110 0 2-.89 2-2V6c0-1.110-.89-2-2-2zm0 14H4v-6h16v6zm0-10H4V6h16v2z"/></svg>
<a class="t" style="left:103.88px;top:1348.68px;font-size:22.48px;line-height:22.48px;color:#e0e0e0;font-weight:400;transform:scaleX(0.9892);">Payments</a>
<svg class="ic" style="left:485.00px;top:1350.21px;width:16px;height:24px" viewBox="0 0 16 24"><path d="M4.5 5.2 L11 12 L4.5 18.8" fill="none" stroke="#b9c8be" stroke-width="3.2"/></svg>
</li>
<li>
<svg class="ic" style="left:45.30px;top:1414.64px;width:32.00px;height:32.00px;" viewBox="0 0 24 24" fill="#e0e0e0"><path d="M19.930 8.350l-3.600 1.680L14 7.700V6.300l2.330-2.330 3.600 1.680c.38.18.82.01 1-.36.18-.38.01-.82-.36-1L16.650 2.460c-.38-.18-.83-.1-1.130.2l-1.740 1.740c-.18-.24-.46-.4-.78-.4-.55 0-1 .45-1 1v1H8.820C8.400 4.840 7.300 4 6 4 4.340 4 3 5.340 3 7c0 1.100.6 2.050 1.480 2.580L7.080 18H6c-1.100 0-2 .9-2 2v1h13v-1c0-1.100-.9-2-2-2h-1.620L8.410 8.770c.17-.24.31-.49.41-.77H12v1c0 .55.45 1 1 1 .32 0 .6-.16.78-.4l1.740 1.740c.3.3.75.38 1.130.2l3.920-1.830c.38-.18.54-.62.36-1-.18-.37-.62-.54-1-.36zM6 8c-.55 0-1-.45-1-1s.45-1 1-1 1 .45 1 1-.45 1-1 1zm5.110 10H9.170l-2.460-8h.1l4.300 8z"/></svg>
<a class="t" style="left:103.80px;top:1419.61px;font-size:22.48px;line-height:22.48px;color:#e0e0e0;font-weight:400;transform:scaleX(1.0302);">Equipment</a>
<svg class="ic" style="left:485.00px;top:1421.14px;width:16px;height:24px" viewBox="0 0 16 24"><path d="M4.5 5.2 L11 12 L4.5 18.8" fill="none" stroke="#b9c8be" stroke-width="3.2"/></svg>
</li>
<li>
<h6 class="t" style="left:34.46px;top:1497.85px;font-size:20.27px;line-height:20.27px;color:#9ca49f;font-weight:400;transform:scaleX(1.0117);">Account</h6>
</li>
<li>
<svg class="ic" style="left:45.30px;top:1552.80px;width:32.00px;height:32.00px;" viewBox="0 0 24 24" fill="#e0e0e0"><path d="M4 6h16v2H4zm2-4h12v2H6zm14 8H4c-1.100 0-2 .9-2 2v8c0 1.100.9 2 2 2h16c1.100 0 2-.9 2-2v-8c0-1.100-.9-2-2-2zm0 10H4v-8h16v8zm-10-7.270v6.530L16 16z"/></svg>
<a class="t" style="left:104.76px;top:1559.65px;font-size:20.27px;line-height:20.27px;color:#e0e0e0;font-weight:400;transform:scaleX(1.0233);">Subscriptions</a>
</li>
<li>
<svg class="ic" style="left:45.30px;top:1623.70px;width:32.00px;height:32.00px;" viewBox="0 0 24 24" fill="#e0e0e0"><path d="M4 18v-.65c0-.34.16-.66.41-.81C6.100 15.530 8.030 15 10 15c.03 0 .05 0 .08.01.1-.7.3-1.370.59-1.980-.22-.02-.44-.03-.67-.03-2.420 0-4.680.67-6.610 1.820-.88.52-1.390 1.500-1.390 2.530V20h9.260c-.42-.6-.75-1.280-.97-2H4zM10 12c2.210 0 4-1.790 4-4s-1.790-4-4-4-4 1.790-4 4 1.790 4 4 4zm0-6c1.100 0 2 .9 2 2s-.9 2-2 2-2-.9-2-2 .9-2 2-2zM20.750 16c0-.22-.03-.42-.06-.63l1.140-1.010-1-1.730-1.450.49c-.32-.27-.68-.48-1.080-.63L18 11h-2l-.3 1.490c-.4.15-.76.36-1.080.63l-1.450-.49-1 1.730 1.140 1.010c-.03.21-.06.41-.06.63s.03.42.06.63l-1.140 1.010 1 1.730 1.450-.49c.32.27.68.48 1.080.63L16 21h2l.3-1.490c.4-.15.76-.36 1.080-.63l1.450.49 1-1.730-1.140-1.010c.03-.21.06-.41.06-.63zM17 18c-1.100 0-2-.9-2-2s.9-2 2-2 2 .9 2 2-.9 2-2 2z"/></svg>
<a class="t" style="left:104.16px;top:1630.55px;font-size:20.27px;line-height:20.27px;color:#e0e0e0;font-weight:400;transform:scaleX(0.9862);">User Accounts</a>
</li>
<li>
<svg class="ic" style="left:45.30px;top:1694.60px;width:32.00px;height:32.00px;" viewBox="0 0 24 24" fill="#e0e0e0"><path d="M17 8l-1.410 1.410L17.170 11H9v2h8.170l-1.580 1.580L17 16l4-4-4-4zM5 5h7V3H5c-1.100 0-2 .9-2 2v14c0 1.100.9 2 2 2h7v-2H5V5z"/></svg>
<a class="t" style="left:104.04px;top:1701.45px;font-size:20.27px;line-height:20.27px;color:#e0e0e0;font-weight:400;">Log Out</a>
</li>
</ul></nav>
</aside>
<div class="sbv"></div><div class="sbh"></div><div class="sbt"></div>
</body></html>
